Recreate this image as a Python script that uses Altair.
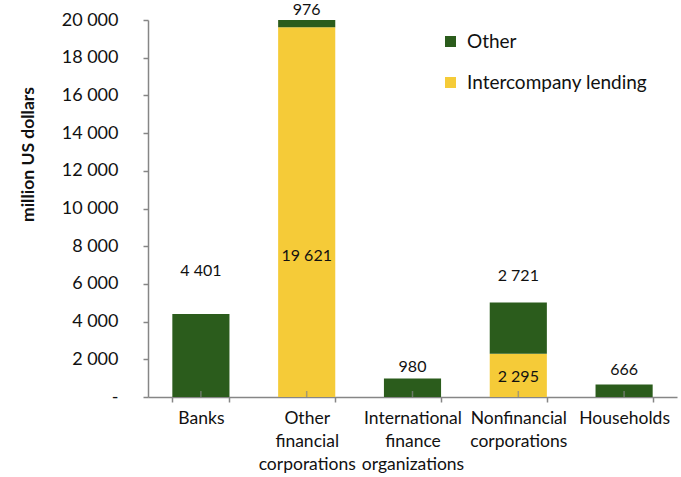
import altair as alt
import pandas as pd

# Loans by borrower sector, million US dollars
categories = [
    "Banks",
    "Other\nfinancial\ncorporations",
    "International\nfinance\norganizations",
    "Nonfinancial\ncorporations",
    "Households",
]
intercompany = [0, 19621, 0, 2295, 0]
other = [4401, 976, 980, 2721, 666]

series_names = ["Other", "Intercompany lending"]
series_colors = ["#2B5C1C", "#F5CB38"]

# pixel nudges for the value labels (category index, series) -> dy
label_nudge = {
    (0, "Other"): -43,
    (1, "Other"): 1,
    (2, "Other"): -12,
    (3, "Other"): -26,
    (4, "Other"): -14,
    (1, "Intercompany lending"): 44,
    (3, "Intercompany lending"): 2,
}

FONT = "Lato"
AXIS_GREY = "#868686"
TEXT = "#111111"

rows = []
labels = []
for i, cat in enumerate(categories):
    ic, ot = intercompany[i], other[i]
    rows.append({"cat": cat, "series": "Intercompany lending", "value": ic, "rank": 0})
    rows.append({"cat": cat, "series": "Other", "value": ot, "rank": 1})
    if ic:
        labels.append({"cat": cat, "pos": ic / 2, "value": ic,
                       "dy": label_nudge[(i, "Intercompany lending")]})
    if ot:
        labels.append({"cat": cat, "pos": ic + ot, "value": ot,
                       "dy": label_nudge[(i, "Other")]})

bars_df = pd.DataFrame(rows)
labels_df = pd.DataFrame(labels)
labels_df["text"] = labels_df["value"].map(lambda v: f"{v:,}".replace(",", " "))
cats_df = pd.DataFrame({"cat": categories})

x_scale = alt.Scale(paddingInner=0.46, paddingOuter=0.23)
x_axis = alt.Axis(
    labelAngle=0,
    labelExpr="split(datum.label, '\\n')",
    labelFont=FONT,
    labelFontSize=17.5,
    labelColor=TEXT,
    labelLineHeight=23,
    labelBaseline="top",
    labelPadding=7,
    labelLimit=0,
    labelOverlap=False,
    tickBand="extent",
    tickSize=5,
    tickColor=AXIS_GREY,
    tickWidth=1.5,
    domainColor=AXIS_GREY,
    domainWidth=1.5,
    grid=False,
)
x_enc = alt.X("cat:N", sort=categories, title=None, scale=x_scale, axis=x_axis)

y_scale = alt.Scale(domain=[0, 20000], nice=False)
y_axis = alt.Axis(
    values=list(range(0, 20001, 2000)),
    labelExpr="datum.value == 0 ? '-' : replace(format(datum.value, ','), ',', ' ')",
    labelFont=FONT,
    labelFontSize=18,
    labelColor=TEXT,
    labelPadding=25,
    labelOverlap=False,
    tickSize=5,
    tickColor=AXIS_GREY,
    tickWidth=1.5,
    domainColor=AXIS_GREY,
    domainWidth=1.5,
    grid=False,
    titleFont=FONT,
    titleFontSize=17.5,
    titleFontWeight="bold",
    titleColor=TEXT,
    titleAngle=-90,
    titleX=-120,
    titleY=134,
    titleAlign="center",
    titleBaseline="middle",
)
Y_TITLE = "million US dollars"

bars = alt.Chart(bars_df).mark_bar(clip=True).encode(
    x=x_enc,
    y=alt.Y("value:Q", stack="zero", scale=y_scale, title=Y_TITLE, axis=y_axis),
    color=alt.Color(
        "series:N",
        scale=alt.Scale(domain=series_names, range=series_colors),
        sort=series_names,
        legend=alt.Legend(
            title=None,
            orient="none",
            legendX=293,
            legendY=12,
            symbolType="square",
            symbolSize=121,
            symbolStrokeWidth=0,
            labelFont=FONT,
            labelFontSize=19,
            labelColor=TEXT,
            labelLimit=0,
            rowPadding=21,
            labelOffset=7,
        ),
    ),
    order=alt.Order("rank:Q", sort="ascending"),
)

# short category-centre ticks standing on the baseline
center_ticks = alt.Chart(cats_df).mark_tick(
    orient="vertical", size=6, thickness=1.5, color=AXIS_GREY
).encode(
    x=x_enc,
    y=alt.Y(datum=0, scale=y_scale, title=Y_TITLE, axis=y_axis),
    yOffset=alt.value(-3),
)

# one text layer per value label so each can carry its own nudge
label_layers = []
for rec in labels_df.to_dict("records"):
    label_layers.append(
        alt.Chart(pd.DataFrame([rec])).mark_text(
            font=FONT, fontSize=16, color=TEXT, baseline="middle",
            align="center", dy=rec["dy"],
        ).encode(
            x=x_enc,
            y=alt.Y("pos:Q", scale=y_scale, title=Y_TITLE, axis=y_axis),
            text="text:N",
        )
    )

chart = (
    alt.layer(bars, center_ticks, *label_layers)
    .properties(
        width=529,
        height=377,
        padding={"left": 148, "top": 20, "right": 4, "bottom": 80},
        autosize="none",
        background="white",
    )
    .configure_view(stroke=None)
)

chart.save("out.html", embed_options={"renderer": "svg", "actions": False})
